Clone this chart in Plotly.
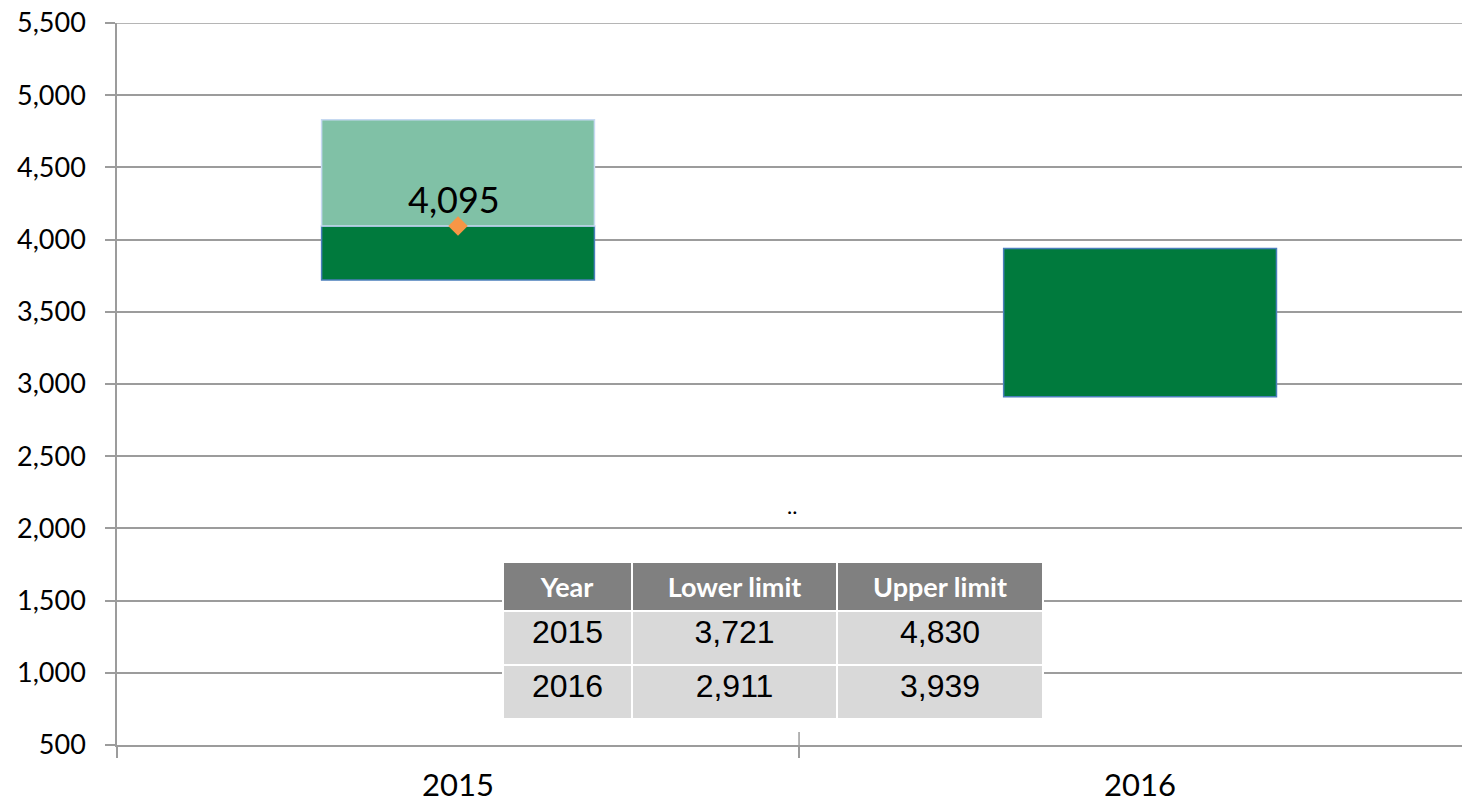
import plotly.graph_objects as go

# ---- data ----
years = ["2015", "2016"]
lower_limit = [3721, 2911]
upper_limit = [4830, 3939]
estimate = [4095, None]

y_ticks = [500, 1000, 1500, 2000, 2500, 3000, 3500, 4000, 4500, 5000, 5500]

# derived bar segments
dark_top = [e if e is not None else u for e, u in zip(estimate, upper_limit)]
dark_height = [t - l for t, l in zip(dark_top, lower_limit)]
light_base = [e for e in estimate]
light_height = [(u - e) if e is not None else None for u, e in zip(upper_limit, estimate)]

GRID = "#9c9c9c"
FONT = "Lato"

fig = go.Figure()

fig.add_trace(go.Bar(
    x=years, y=dark_height, base=lower_limit, width=0.4,
    marker=dict(color="#007A3D", line=dict(color="#4A7EBB", width=1.5)),
    hoverinfo="skip", showlegend=False,
))
fig.add_trace(go.Bar(
    x=years, y=light_height, base=light_base, width=0.4,
    marker=dict(color="#80C1A6", line=dict(color="#C6D9F1", width=1.5)),
    hoverinfo="skip", showlegend=False,
))
est_idx = [i for i, e in enumerate(estimate) if e is not None]
est_x = [years[i] for i in est_idx]
est_y = [estimate[i] for i in est_idx]
fig.add_trace(go.Scatter(
    x=est_x, y=est_y, mode="markers",
    marker=dict(symbol="diamond", size=15, color="#F79646", line=dict(width=0)),
    hoverinfo="skip", showlegend=False,
))
for i in est_idx:
    fig.add_annotation(x=i, y=estimate[i], text=f"{estimate[i]:,}", showarrow=False,
                       xref="x", yref="y", yanchor="middle", yshift=27, xshift=-4,
                       font=dict(family=FONT, size=36, color="#000000"))

# table
fig.add_trace(go.Table(
    domain=dict(x=[0.287, 0.6885], y=[0.0374, 0.2535]),
    columnwidth=[129, 205, 206],
    header=dict(
        values=["<b>Year</b>", "<b>Lower limit</b>", "<b>Upper limit</b>"],
        fill_color="#808080", align="center", height=48,
        line=dict(color="white", width=2),
        font=dict(family=FONT, size=27, color="white"),
    ),
    cells=dict(
        values=[years, [f"{v:,}" for v in lower_limit], [f"{v:,}" for v in upper_limit]],
        fill_color="#D9D9D9", align="center", height=54,
        line=dict(color="white", width=2),
        font=dict(family="Liberation Sans", size=32, color="black"),
    ),
))

# small stray mark
fig.add_annotation(x=0.49, y=2160, text="..", showarrow=False,
                   font=dict(family=FONT, size=22, color="black"))

# crossing part of boundary tick
fig.add_shape(type="line", xref="x", yref="y", x0=0.5, x1=0.5,
              ysizemode="pixel", yanchor=500, y0=0, y1=13,
              line=dict(color=GRID, width=1.5))
# top gridline (at the top edge of the plot area)
fig.add_shape(type="line", xref="paper", yref="y", x0=0, x1=1,
              y0=y_ticks[-1], y1=y_ticks[-1], layer="below",
              line=dict(color=GRID, width=1.5))

fig.update_layout(
    width=1462, height=808,
    margin=dict(l=117, r=0, t=23, b=63, autoexpand=False),
    paper_bgcolor="white", plot_bgcolor="white",
    barmode="overlay",
    font=dict(family=FONT, color="black"),
)
fig.update_xaxes(
    type="category", categoryorder="array", categoryarray=years,
    range=[-0.5, 1.472], automargin=False,
    tickson="boundaries", ticks="outside", ticklen=11, tickwidth=1.5, tickcolor=GRID,
    showline=True, linecolor=GRID, linewidth=1.5, showgrid=False,
    tickfont=dict(family=FONT, size=31, color="black"),
    ticklabelstandoff=12, ticklabeloverflow="allow",
)
fig.update_yaxes(
    range=[500, 5500], tickvals=y_ticks, tickformat=",", automargin=False,
    showgrid=True, gridcolor=GRID, gridwidth=1.5,
    showline=True, linecolor=GRID, linewidth=1.5, mirror=False,
    ticks="outside", ticklen=10, tickwidth=1.5, tickcolor=GRID,
    zeroline=False,
    tickfont=dict(family=FONT, size=27, color="black"),
    ticklabelstandoff=14, ticklabeloverflow="allow",
)

fig.write_html("out.html", config={"displayModeBar": False},
               post_script="document.body.style.margin='0';document.body.style.overflow='hidden';")
